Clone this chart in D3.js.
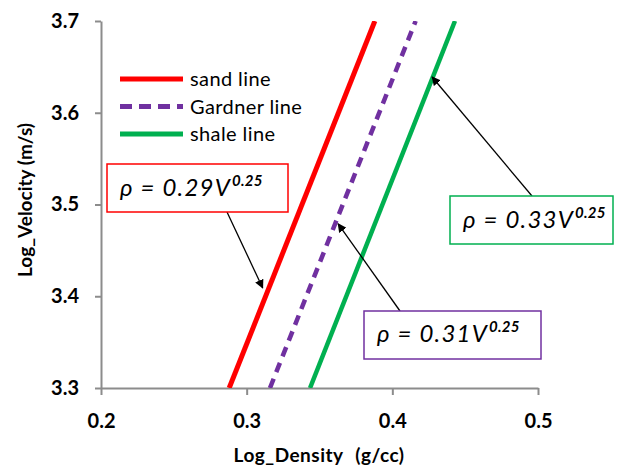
<!DOCTYPE html>
<html><head><meta charset="utf-8">
<script src="https://cdn.jsdelivr.net/npm/d3@7"></script>
<style>
body{margin:0;background:#fff;}
svg{display:block;}
text{font-family:Lato,"Open Sans",sans-serif;}
</style></head>
<body>
<script>
// ---- data ----
const velocityTicks = [3.3, 3.4, 3.5, 3.6, 3.7];
const densityTicks = [0.2, 0.3, 0.4, 0.5];
const velocity = [3.3, 3.7];                 // Log_Velocity end points
const sandDensity = [0.288, 0.388];          // Log_Density of sand line
const gardnerDensity = [0.316, 0.416];       // Log_Density of Gardner line
const shaleDensity = [0.3435, 0.443];        // Log_Density of shale line
const seriesNames = ["sand line", "Gardner line", "shale line"];
const coefficients = ["0.29", "0.31", "0.33"];
const exponent = "0.25";
const arrowTargetDensity = [0.311, 0.3628, 0.4273];
const arrowTargetVelocity = [3.409, 3.479, 3.639];

// ---- layout ----
const W = 621, H = 468;
const svg = d3.select("body").append("svg").attr("width", W).attr("height", H);
const x = d3.scaleLinear().domain([0.2, 0.5]).range([101, 538]);
const y = d3.scaleLinear().domain([3.3, 3.7]).range([388, 21]);

const axisColor = "#8c8c8c";
const gy = svg.append("g").attr("transform", "translate(101,0)")
  .call(d3.axisLeft(y).tickValues(velocityTicks).tickFormat(d3.format(".1f")).tickSizeInner(6).tickSizeOuter(0).tickPadding(16));
const gx = svg.append("g").attr("transform", "translate(0,388)")
  .call(d3.axisBottom(x).tickValues(densityTicks).tickFormat(d3.format(".1f")).tickSizeInner(7).tickSizeOuter(0).tickPadding(19));
[gx, gy].forEach(g => {
  g.select(".domain").attr("stroke", axisColor).attr("stroke-width", 2);
  g.selectAll(".tick line").attr("stroke", axisColor).attr("stroke-width", 2);
  g.selectAll(".tick text").attr("fill", "#000").style("font-size", "20px").style("font-weight", "bold").style("font-family", "Lato, sans-serif");
});

// axis titles
svg.append("text").attr("x", 319).attr("y", 462).attr("text-anchor", "middle")
  .style("font-size", "19px").style("font-weight", "bold").style("word-spacing", "7px")
  .style("letter-spacing", "0.5px").text("Log_Density (g/cc)");
svg.append("text").attr("transform", "translate(32,200) rotate(-90)").attr("text-anchor", "middle")
  .style("font-size", "19px").style("font-weight", "bold").text("Log_Velocity (m/s)");

// series lines
const series = [
  {name: seriesNames[0], dens: sandDensity, color: "#ff0000", dash: null, w: 5},
  {name: seriesNames[1], dens: gardnerDensity, color: "#7030a0", dash: "10,7", w: 4.5},
  {name: seriesNames[2], dens: shaleDensity, color: "#00b050", dash: null, w: 4.5}
];
const line = d3.line().x(d => x(d[0])).y(d => y(d[1]));
svg.append("clipPath").attr("id", "plot").append("rect")
  .attr("x", 101).attr("y", 21).attr("width", 437).attr("height", 367);
series.forEach(s => {
  svg.append("path").datum(s.dens.map((d, i) => [d, velocity[i]]))
    .attr("d", line).attr("fill", "none").attr("stroke", s.color)
    .attr("stroke-width", s.w).attr("stroke-dasharray", s.dash)
    .attr("clip-path", "url(#plot)");
});

// legend
series.forEach((s, i) => {
  const ly = 79 + i * 27.5;
  svg.append("line").attr("x1", 120).attr("x2", 183).attr("y1", ly).attr("y2", ly)
    .attr("stroke", s.color).attr("stroke-width", 5).attr("stroke-dasharray", s.dash ? "12,7" : null);
  svg.append("text").attr("x", 190).attr("y", ly + 7).style("font-size", "20px")
    .style("letter-spacing", "0.4px").text(s.name);
});

// arrow marker
svg.append("defs").append("marker").attr("id", "arrow").attr("viewBox", "0 0 10 10")
  .attr("refX", 9).attr("refY", 5).attr("markerWidth", 9).attr("markerHeight", 9)
  .attr("markerUnits", "userSpaceOnUse").attr("orient", "auto")
  .append("path").attr("d", "M0,0 L10,5 L0,10 z").attr("fill", "#000");

// annotation boxes
const boxes = [
  {x: 107, y: 164, w: 181, h: 48, color: "#ff0000", tx: 120, ty: 196, ax: 227, ay: 212},
  {x: 364, y: 311, w: 177, h: 48, color: "#7030a0", tx: 377, ty: 342, ax: 400, ay: 311},
  {x: 450, y: 196, w: 163, h: 48, color: "#00b050", tx: 463, ty: 228, ax: 532, ay: 196}
];
boxes.forEach((b, i) => {
  svg.append("line").attr("x1", b.ax).attr("y1", b.ay)
    .attr("x2", x(arrowTargetDensity[i])).attr("y2", y(arrowTargetVelocity[i]))
    .attr("stroke", "#000").attr("stroke-width", 1.3).attr("marker-end", "url(#arrow)");
  svg.append("rect").attr("x", b.x).attr("y", b.y).attr("width", b.w).attr("height", b.h)
    .attr("fill", "#fff").attr("stroke", b.color).attr("stroke-width", 1.5);
  const t = svg.append("text").attr("x", b.tx).attr("y", b.ty)
    .style("font-size", "24px").style("font-style", "italic").attr("fill", "#000")
    .style("letter-spacing", "1.2px");
  t.append("tspan").text("\u03C1 = " + coefficients[i] + "V");
  t.append("tspan").attr("dy", -10).attr("dx", 1).style("font-size", "15px")
    .style("font-weight", "bold").style("letter-spacing", "0.3px").text(exponent);
});
</script>
</body></html>
